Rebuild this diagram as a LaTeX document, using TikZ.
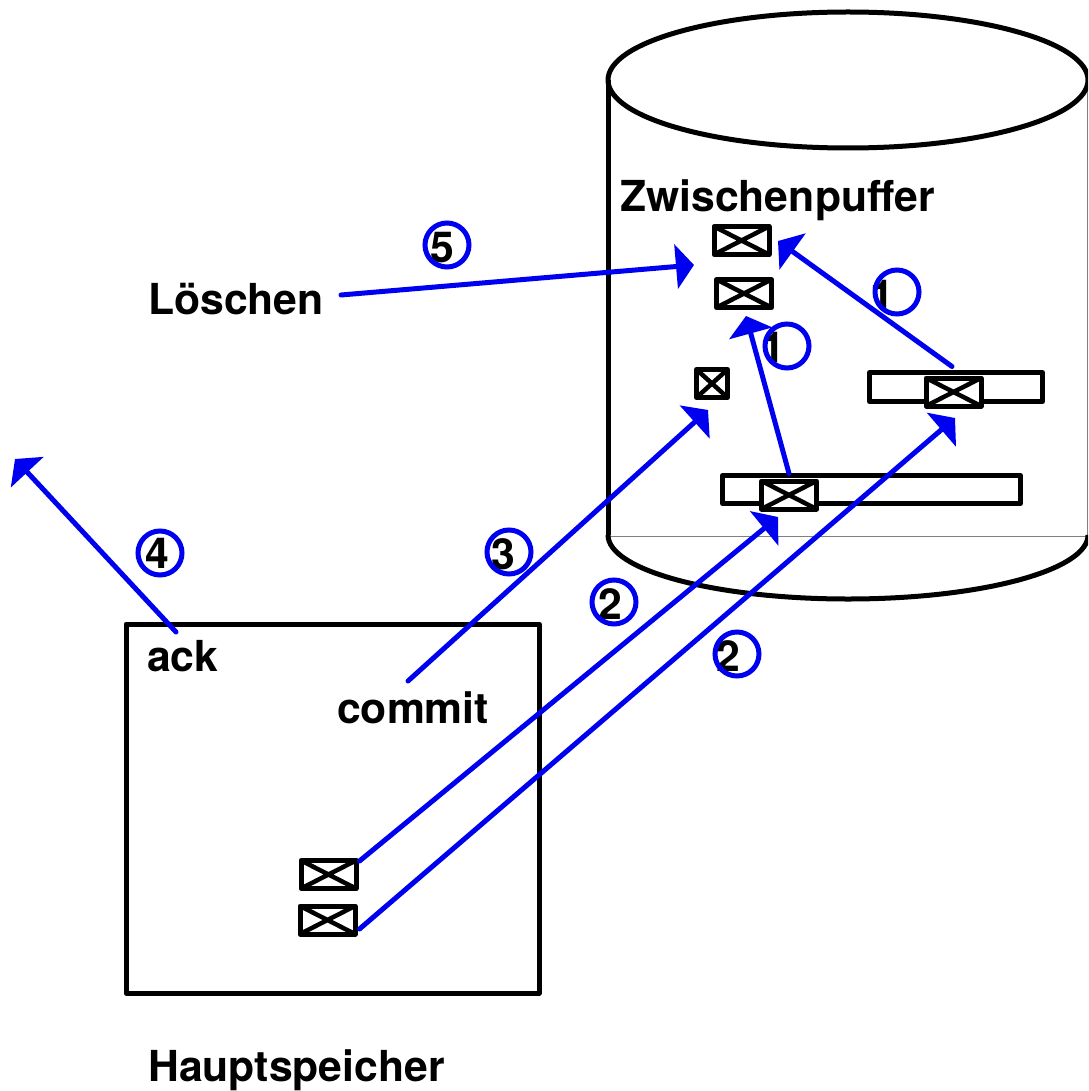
\documentclass[tikz,border=0pt]{standalone}
\usepackage{fontspec}
\setmainfont{TeX Gyre Heros}
\usetikzlibrary{arrows.meta,shapes.geometric}
\definecolor{flow}{RGB}{0,0,240}
\tikzset{
  outline/.style={draw=black,line width=5pt,line join=round},
  strip/.style={outline,fill=white,inner sep=0pt,minimum height=#1},
  xbox/.style={outline,fill=white,inner sep=0pt,minimum width=55pt,minimum height=28pt,
    path picture={\draw[line width=4.5pt]
      (path picture bounding box.north west)--(path picture bounding box.south east)
      (path picture bounding box.north east)--(path picture bounding box.south west);}},
  flowline/.style={draw=flow,line width=5pt,line cap=round,-{Triangle[length=18pt,width=44pt]}},
  stepring/.style={circle,draw=flow,line width=5pt,inner sep=0pt,minimum size=44pt},
  label/.style={font=\fontsize{42.7}{50}\bfseries\selectfont,inner sep=0pt,anchor=base west},
  digit/.style={font=\fontsize{42.7}{50}\bfseries\selectfont,inner sep=0pt,anchor=base}
}
\begin{document}
\begin{tikzpicture}[x=1pt,y=-1pt]
\useasboundingbox (0,0) rectangle (1088,1091);
\clip (0,0) rectangle (1088,1091);
% cylinder
\draw[line width=1pt,draw=gray] (608,536)--(1088,536);
\draw[line width=1.5pt,draw=gray] (1087.5,80)--(1087.5,535);
\draw[outline] (608,535) -- (608,80);
\draw[outline] (848,80) ellipse[x radius=240,y radius=68];
\draw[outline] (608,535) arc[start angle=180,end angle=0,x radius=240,y radius=64];
% main memory
\node[outline,inner sep=0pt,minimum width=413pt,minimum height=369pt] (mem) at (332.5,808.5) {};
% strips and boxes
\node[strip=29pt,minimum width=173pt] (rstrip) at (956,387) {};
\node[strip=28pt,minimum width=298pt] (lstrip) at (871.5,489.5) {};
\node[xbox] (top) at (741.5,240.5) {};
\node[xbox] (second) at (744,293.5) {};
\node[xbox,minimum width=31pt] (small) at (712,383.5) {};
\node[xbox] (rbox) at (953.5,392) {};
\node[xbox] (lbox) at (789,495) {};
\node[xbox] (memA) at (328.5,874.5) {};
\node[xbox] (memB) at (327.5,920) {};
% texts
\node[label] (zw) at (620,212) {Zwischenpuffer};
\node[label] (loe) at (148,314) {Löschen};
\node[label] (ack) at (147,671) {ack};
\node[label] (commit) at (337,723) {commit};
\node[label] (haupt) at (148,1081) {Hauptspeicher};
% digits and rings
\node[digit] (d5) at (442,262) {5};
\node[digit] (d1a) at (882,310) {1};
\node[digit] (d1b) at (773,362) {1};
\node[digit] (d3) at (503,569) {3};
\node[digit] (d4) at (157,568) {4};
\node[digit] (d2a) at (610,619) {2};
\node[digit] (d2b) at (728,671) {2};
\node[stepring] (r5) at (447,245) {};
\node[stepring] (r1a) at (897,292) {};
\node[stepring] (r1b) at (787,346) {};
\node[stepring] (r3) at (509,552) {};
\node[stepring] (r4) at (160,553) {};
\node[stepring] (r2a) at (614,602) {};
\node[stepring] (r2b) at (737,654) {};
% connector ends
\coordinate (loeEnd) at (341,295);
\coordinate (delTip) at (694,265);
\coordinate (t1a) at (778,241);
\coordinate (t1b) at (746,316);
\coordinate (commitEnd) at (408,681);
\coordinate (t3) at (708,410);
\coordinate (t2a) at (778,517);
\coordinate (t2b) at (955,418);
\coordinate (ackEnd) at (176,632);
\coordinate (t4) at (15,459);
% connectors
\draw[flowline] (loeEnd) -- (delTip);
\draw[flowline] ([xshift=-1.5pt,yshift=9pt]rbox.north) -- (t1a);
\draw[flowline] ([yshift=5pt]lbox.north) -- (t1b);
\draw[flowline] (commitEnd) -- (t3);
\draw[flowline] ([xshift=1pt,yshift=-3pt]memA.north east) -- (t2a);
\draw[flowline] ([xshift=2pt,yshift=-9pt]memB.east) -- (t2b);
\draw[flowline] (ackEnd) -- (t4);
\end{tikzpicture}
\end{document}
